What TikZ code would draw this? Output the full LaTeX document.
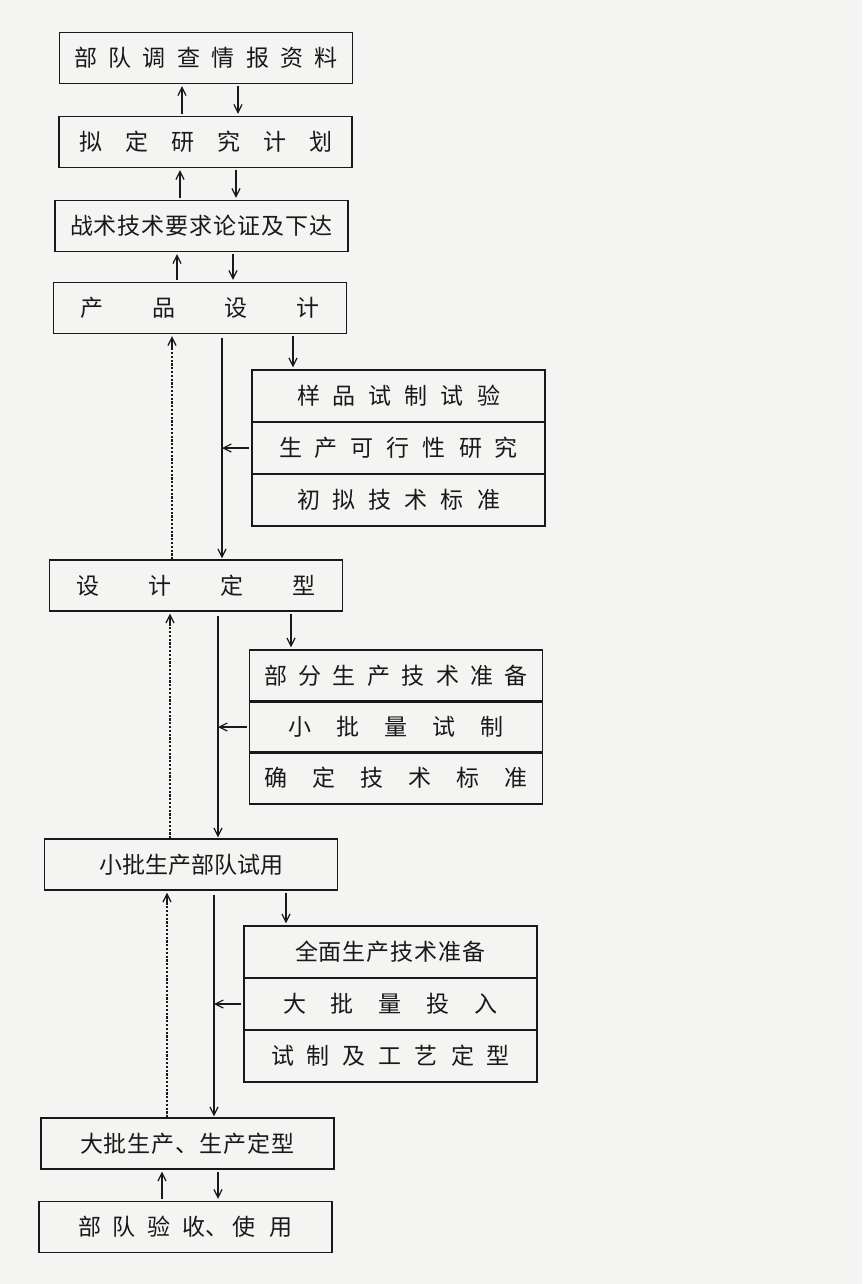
\documentclass[tikz,border=0pt]{standalone}
\usepackage{fontspec}
\newfontfamily\cjk{Noto Sans CJK SC}
\usetikzlibrary{arrows.meta,calc}

% evenly spaced characters: \spread{gap}{text}
\ExplSyntaxOn
\NewDocumentCommand\spread{m m}{
  \bool_set_true:N \l_tmpa_bool
  \tl_map_inline:nn {#2}{
    \bool_if:NTF \l_tmpa_bool {\bool_set_false:N \l_tmpa_bool}{\hspace*{#1}}
    ##1
  }
}
\ExplSyntaxOff

\definecolor{ink}{RGB}{25,25,25}
\definecolor{paper}{RGB}{244,244,242}

\tikzset{
  box/.style={draw=ink, line width=1.4pt, minimum width=293pt, minimum height=51pt,
    inner sep=0pt, text=ink, font=\cjk\fontsize{23pt}{23pt}\selectfont},
  row/.style={box, minimum height=52pt},
  arr/.style={draw=ink, line width=1.2pt, shorten <=2pt, shorten >=2pt,
    -{Straight Barb[length=8pt,width=8pt,line width=1.2pt]}},
  trunk/.style={arr, shorten <=4pt, shorten >=1pt},
  dotline/.style={draw=ink, line width=1.7pt, dash pattern=on 2.2pt off 1.6pt},
  backtip/.style={arr, shorten <=0pt}
}

\begin{document}
\begin{tikzpicture}[x=1pt,y=-1pt]
  \fill[paper] (0,0) rectangle (862,1284);
  \useasboundingbox (0,0) rectangle (862,1284);

  % main stages
  \node[box] (B1) at (206,58)     {\spread{11.4pt}{部队调查情报资料}};
  \node[box] (B2) at (205.5,142)  {\spread{23pt}{拟定研究计划}};
  \node[box] (B3) at (201.5,226)  {\spread{1pt}{战术技术要求论证及下达}};
  \node[box] (B4) at (200,308)    {\spread{49pt}{产品设计}};
  \node[box] (B5) at (196,585.5)  {\spread{49pt}{设计定型}};
  \node[box] (B6) at (191,864.5)  {小批生产部队试用};
  \node[box] (B7) at (187.5,1143.5) {\spread{1pt}{大批生产、生产定型}};
  \node[box] (B8) at (185.5,1227) {\spread{12pt}{部队验}\hspace*{12pt}收、\hspace*{4pt}\spread{14pt}{使用}};

  % side groups of three tasks
  \node[row] (G1a) at (398.5,396) {\spread{13pt}{样品试制试验}};
  \node[row] (G1b) at (398.5,448) {\spread{13pt}{生产可行性研究}};
  \node[row] (G1c) at (398.5,500) {\spread{13pt}{初拟技术标准}};

  \node[row] (G2a) at (396,676)   {\spread{11.4pt}{部分生产技术准备}};
  \node[row] (G2b) at (396,727)   {\spread{25pt}{小批量试制}};
  \node[row] (G2c) at (396,778)   {\spread{25pt}{确定技术标准}};

  \node[row] (G3a) at (390.5,952)  {\spread{1pt}{全面生产技术准备}};
  \node[row] (G3b) at (390.5,1004) {\spread{25pt}{大批量投入}};
  \node[row] (G3c) at (390.5,1056) {\spread{13pt}{试制及工艺定型}};

  % connector columns
  \coordinate (u1) at (182,0);  \coordinate (d1) at (238,0);
  \coordinate (u2) at (180,0);  \coordinate (d2) at (236,0);
  \coordinate (u3) at (177,0);  \coordinate (d3) at (233,0);
  \coordinate (s1) at (293,0);  \coordinate (t1) at (222,0);  \coordinate (f1) at (172,0);
  \coordinate (s2) at (291,0);  \coordinate (t2) at (218,0);  \coordinate (f2) at (170,0);
  \coordinate (s3) at (286,0);  \coordinate (t3) at (214,0);  \coordinate (f3) at (167,0);
  \coordinate (u4) at (162,0);  \coordinate (d4) at (218,0);

  % two-way links between stages
  \draw[arr] (B2.north -| u1) -- (B1.south -| u1);
  \draw[arr] (B1.south -| d1) -- (B2.north -| d1);
  \draw[arr] (B3.north -| u2) -- (B2.south -| u2);
  \draw[arr] (B2.south -| d2) -- (B3.north -| d2);
  \draw[arr] (B4.north -| u3) -- (B3.south -| u3);
  \draw[arr] (B3.south -| d3) -- (B4.north -| d3);
  \draw[arr] (B8.north -| u4) -- (B7.south -| u4);
  \draw[arr] (B7.south -| d4) -- (B8.north -| d4);

  % design -> samples -> design finalisation
  \draw[arr] (B4.south -| s1) -- (G1a.north -| s1);
  \draw[trunk] (B4.south -| t1) -- (B5.north -| t1);
  \draw[arr, shorten >=0pt] (G1b.west) -- (G1b.west -| t1);
  \draw[dotline] (B5.north -| f1) -- ($(B4.south -| f1)+(0,12)$);
  \draw[backtip] ($(B4.south -| f1)+(0,14)$) -- (B4.south -| f1);

  % finalisation -> small batch -> troop trial
  \draw[arr] (B5.south -| s2) -- (G2a.north -| s2);
  \draw[trunk] (B5.south -| t2) -- (B6.north -| t2);
  \draw[arr, shorten >=0pt] (G2b.west) -- (G2b.west -| t2);
  \draw[dotline] (B6.north -| f2) -- ($(B5.south -| f2)+(0,12)$);
  \draw[backtip] ($(B5.south -| f2)+(0,14)$) -- (B5.south -| f2);

  % troop trial -> mass production
  \draw[arr] (B6.south -| s3) -- (G3a.north -| s3);
  \draw[trunk] (B6.south -| t3) -- (B7.north -| t3);
  \draw[arr, shorten >=0pt] (G3b.west) -- (G3b.west -| t3);
  \draw[dotline] (B7.north -| f3) -- ($(B6.south -| f3)+(0,12)$);
  \draw[backtip] ($(B6.south -| f3)+(0,14)$) -- (B6.south -| f3);
\end{tikzpicture}
\end{document}
